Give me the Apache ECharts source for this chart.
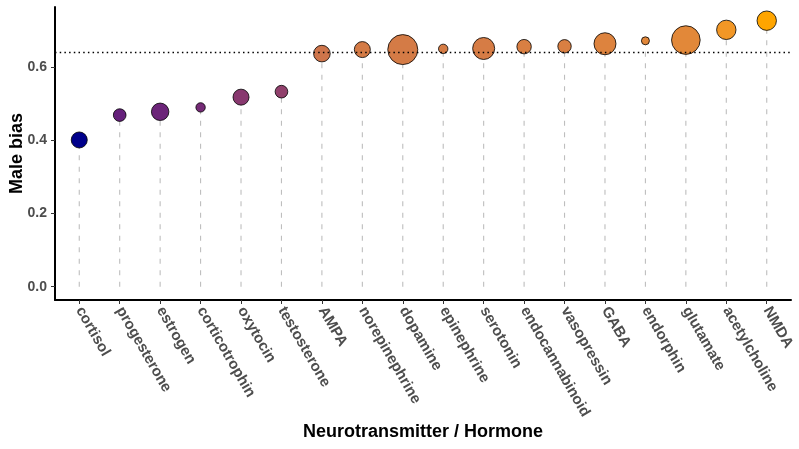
<!DOCTYPE html>
<html>
<head>
<meta charset="utf-8">
<script src="https://cdn.jsdelivr.net/npm/echarts@6/dist/echarts.min.js"></script>
<style>
html,body{margin:0;padding:0;background:#fff;}
#chart{width:799px;height:449px;}
</style>
</head>
<body>
<div id="chart"></div>
<script>
const categories = ['cortisol','progesterone','estrogen','corticotrophin','oxytocin','testosterone','AMPA','norepinephrine','dopamine','epinephrine','serotonin','endocannabinoid','vasopressin','GABA','endorphin','glutamate','acetylcholine','NMDA'];
const maleBias = [0.401,0.469,0.478,0.490,0.518,0.533,0.637,0.648,0.648,0.650,0.651,0.656,0.657,0.664,0.672,0.674,0.702,0.727];
const studyCount = [64,40,76,22,64,40,69,64,225,22,121,52,45,121,16,205,94,94];
const referenceLine = 0.64;
const yTicks = [0, 0.2, 0.4, 0.6];

const FONT = '"Liberation Sans", Arial, Helvetica, sans-serif';

// Lab colour interpolation (darkblue -> orange), like ggplot's gradient
function toLin(c){c/=255;return c<=0.04045?c/12.92:Math.pow((c+0.055)/1.055,2.4);}
function fromLin(c){const v=c<=0.0031308?12.92*c:1.055*Math.pow(c,1/2.4)-0.055;return Math.max(0,Math.min(255,Math.round(v*255)));}
const WX=0.95047,WY=1,WZ=1.08883;
function f(t){return t>0.008856?Math.cbrt(t):(7.787*t+16/116);}
function fi(t){return t>0.206893?t*t*t:(t-16/116)/7.787;}
function rgb2lab(r,g,b){
  r=toLin(r);g=toLin(g);b=toLin(b);
  const X=(0.4124*r+0.3576*g+0.1805*b)/WX,Y=(0.2126*r+0.7152*g+0.0722*b)/WY,Z=(0.0193*r+0.1192*g+0.9505*b)/WZ;
  const fx=f(X),fy=f(Y),fz=f(Z);
  return [116*fy-16,500*(fx-fy),200*(fy-fz)];
}
function lab2rgb(L,a,b){
  const fy=(L+16)/116,fx=fy+a/500,fz=fy-b/200;
  const X=fi(fx)*WX,Y=fi(fy)*WY,Z=fi(fz)*WZ;
  const r=3.2406*X-1.5372*Y-0.4986*Z,g=-0.9689*X+1.8758*Y+0.0415*Z,bb=0.0557*X-0.2040*Y+1.0570*Z;
  return 'rgb('+fromLin(r)+','+fromLin(g)+','+fromLin(bb)+')';
}
const LOW=rgb2lab(0,0,139), HIGH=rgb2lab(255,165,0);
const vMin=Math.min(...maleBias), vMax=Math.max(...maleBias);
function colorFor(v){
  const t=(v-vMin)/(vMax-vMin);
  return lab2rgb(LOW[0]+(HIGH[0]-LOW[0])*t, LOW[1]+(HIGH[1]-LOW[1])*t, LOW[2]+(HIGH[2]-LOW[2])*t);
}

const idx = categories.map((c,i)=>i);
const pointData = categories.map((c,i)=>({
  value:[i, maleBias[i], studyCount[i]],
  itemStyle:{color: colorFor(maleBias[i])}
}));
const segData = categories.map((c,i)=>[i, maleBias[i]]);

const chart = echarts.init(document.getElementById('chart'), null, {renderer:'canvas'});
chart.setOption({
  animation:false,
  backgroundColor:'#ffffff',
  grid:{left:55, right:8, top:7, bottom:149, containLabel:false, outerBoundsMode:'none'},
  xAxis:{
    type:'value', min:-0.6, max:17.6,
    name:'Neurotransmitter / Hormone', nameLocation:'middle', nameGap:123, nameMoveOverlap:false,
    nameTextStyle:{fontFamily:FONT, fontWeight:'bold', fontSize:18, color:'#000'},
    axisLine:{show:true, onZero:false, lineStyle:{color:'#000', width:2}},
    axisTick:{show:true, length:4, customValues:idx, lineStyle:{color:'#333', width:1}},
    axisLabel:{show:true, customValues:idx, rotate:-60, margin:8,
      formatter:v=>categories[Math.round(v)],
      fontFamily:FONT, fontWeight:'bold', fontSize:15, color:'#4D4D4D'},
    splitLine:{show:false}
  },
  yAxis:{
    type:'value', min:-0.0364, max:0.7644,
    name:'Male bias', nameLocation:'middle', nameGap:29, nameRotate:90, nameMoveOverlap:false,
    nameTextStyle:{fontFamily:FONT, fontWeight:'bold', fontSize:18, color:'#000'},
    axisLine:{show:true, onZero:false, lineStyle:{color:'#000', width:2}},
    axisTick:{show:true, length:4, customValues:yTicks, lineStyle:{color:'#333', width:1}},
    axisLabel:{show:true, customValues:yTicks, margin:8,
      formatter:v=>v.toFixed(1),
      fontFamily:FONT, fontWeight:'bold', fontSize:14, color:'#4D4D4D'},
    splitLine:{show:false}
  },
  series:[
    {
      type:'custom', z:1, silent:true,
      data:segData,
      renderItem:(params, api)=>{
        const p0=api.coord([api.value(0),0]);
        const p1=api.coord([api.value(0),api.value(1)]);
        return {type:'line', shape:{x1:p0[0],y1:p0[1],x2:p1[0],y2:p1[1]},
          style:{stroke:'#BEBEBE', lineWidth:1.1, lineDash:[5,6.5]}};
      }
    },
    {
      type:'scatter', z:3,
      data:pointData,
      symbol:'circle',
      symbolSize:d=>2*Math.sqrt(d[2]),
      itemStyle:{borderColor:'#000', borderWidth:0.8, opacity:1}
    },
    {
      type:'line', z:5, data:[], silent:true,
      markLine:{silent:true, symbol:['none','none'], label:{show:false},
        lineStyle:{color:'#000', type:[1.5,3.2], width:1.3},
        data:[{yAxis:referenceLine}]}
    }
  ]
});
</script>
</body>
</html>
